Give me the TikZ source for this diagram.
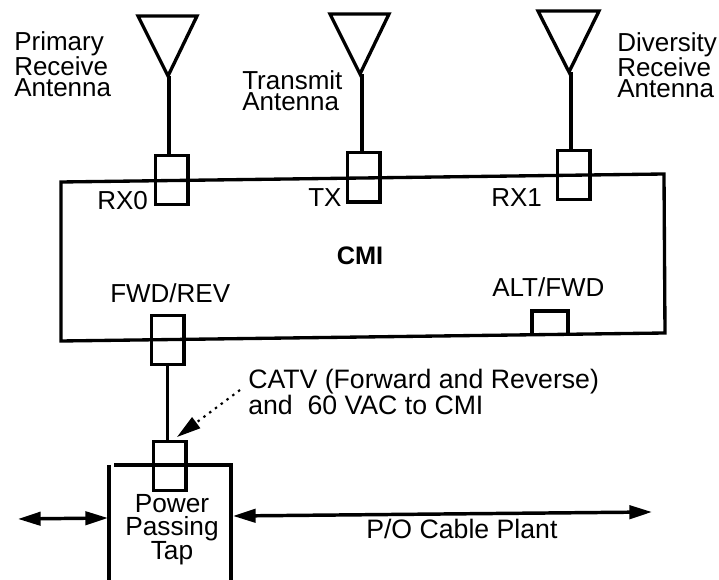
\documentclass[tikz,border=0pt]{standalone}
\usepackage{fontspec}
\setmainfont{Liberation Sans}
\usetikzlibrary{arrows.meta}
\tikzset{
 line/.style={draw=black,line width=2.5pt,line join=miter},
 lab/.style={font=\fontsize{19.5}{15.8}\selectfont,inner sep=0pt,align=left,text=black},
 big/.style={font=\fontsize{20}{20}\selectfont,inner sep=0pt,align=left,text=black},
 port/.style={draw=black,line width=2.5pt,inner sep=0pt,minimum width=24.5pt,minimum height=37pt},
 arr/.style={line width=2.6pt,{Triangle[length=17pt,width=10pt]}-{Triangle[length=17pt,width=10pt]}}
}
\begin{document}
\begin{tikzpicture}[x=0.75pt,y=-0.75pt]
\useasboundingbox (0,0) rectangle (719,580);
% CMI box
\draw[line] (61,182) -- (664,174) -- (665,333) -- (61,341) -- cycle;
% antennas
\draw[line] (138,16) -- (197,16) -- (168,76) -- cycle;
\draw[line] (330,14) -- (389,14) -- (360,74) -- cycle;
\draw[line] (538,11) -- (599,11) -- (569,72) -- cycle;
% ports
\node[port] (p0) at (171.5,180) {};
\node[port] (p1) at (363.5,177.5) {};
\node[port] (p2) at (573.5,175) {};
\node[port] (p3) at (167.5,340) {};
\node[port] (p4) at (169.5,466) {};
\draw[line] (532,334) -- (532,311) -- (568,311) -- (568,334);
% antenna feeds
\coordinate (a0) at (169,76);
\coordinate (a1) at (362,74);
\coordinate (a2) at (571,72);
\draw[line] (a0) -- (p0.north -| a0);
\draw[line] (a1) -- (p1.north -| a1);
\draw[line] (a2) -- (p2.north -| a2);
\draw[line] (p3.south) -- (p3.south |- p4.north);
% tap
\draw[line] (109,465) -- (109,580);
\draw[line] (114,465) -- (231,465) -- (231,580);
% cable arrows
\coordinate (lw) at (18,519);
\coordinate (le) at (108,518);
\coordinate (rw) at (233,516);
\coordinate (re) at (652,512);
\draw[arr] (lw) -- (le);
\draw[arr] (rw) -- (re);
% dotted leader
\coordinate (d1) at (240,390);
\coordinate (d2) at (177,437);
\draw[line width=1.6pt,dash pattern=on 1.8pt off 3.6pt,-{Triangle[length=18pt,width=10pt]}] (d1) -- (d2);
% labels
\node[lab,anchor=base west] (t1) at (14,97) {Primary\\Receive\\Antenna};
\node[lab,anchor=base west] (t2) at (242,111) {Transmit\\Antenna};
\node[lab,anchor=base west] (t3) at (617,98) {Diversity\\Receive\\Antenna};
\node[lab,anchor=base west] (t4) at (97,210) {RX0};
\node[lab,anchor=base west] (t5) at (308,207) {TX};
\node[lab,anchor=base west] (t6) at (491,207) {RX1};
\node[lab,anchor=base,font=\fontsize{19}{20}\selectfont\bfseries] (t7) at (360,265) {CMI};
\node[lab,anchor=base west] (t8) at (110,303) {FWD/REV};
\node[lab,anchor=base west] (t9) at (492,297) {ALT/FWD};
\node[big,anchor=base west] (t10) at (248,415) {CATV (Forward and Reverse)\\and\ \ 60 VAC to CMI};
\node[big,anchor=base,align=center,font=\fontsize{19.7}{17}\selectfont] (t11) at (172,560) {Power\\Passing\\Tap};
\node[big,anchor=base west] (t12) at (366,539) {P/O Cable Plant};
\end{tikzpicture}
\end{document}
